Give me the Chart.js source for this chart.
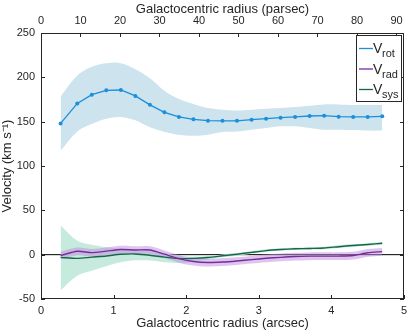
<!DOCTYPE html>
<html lang="en">
<head>
    <meta charset="UTF-8">
    <title>Galactocentric velocity profile</title>
    <script src="https://cdn.jsdelivr.net/npm/chart.js"></script>
    <style>
        body {
            margin: 0;
            background: #fff;
        }
        canvas {
            display: block;
        }
    </style>
</head>
<body>
    <canvas id="velChart" width="415" height="333"></canvas>

    <script>
        // radius in arcsec
        const radius = [0.27, 0.5, 0.7, 0.9, 1.1, 1.3, 1.5, 1.7, 1.9, 2.1, 2.3, 2.5, 2.7, 2.9, 3.1, 3.3, 3.5, 3.7, 3.9, 4.1, 4.3, 4.5, 4.7];

        const vrot   = [148, 170.6, 180.4, 185.3, 185.7, 179, 169, 160.5, 155.3, 152.6, 151.1, 151, 151, 152.3, 153.4, 154.5, 155.3, 156.4, 156.8, 155.6, 155.3, 155.3, 156];
        const vrotHi = [178.5, 202, 212, 216, 216, 209, 199, 185, 175.6, 170, 165.4, 163.5, 162.7, 163.5, 164.6, 165.4, 166.6, 168, 169.5, 169.5, 168.8, 168.8, 168.8];
        const vrotLo = [117.3, 139, 147.4, 153.4, 155.3, 151.5, 143.6, 138.4, 135.3, 134.2, 135.3, 138.4, 139, 141, 142.9, 144.7, 144.7, 142.9, 141, 141, 140.5, 139.9, 139.9];

        const vrad   = [-1, 3.8, 2.3, 4, 5.8, 5.3, 5.3, 0.6, -4.5, -7.7, -8.8, -8.3, -7.1, -5.6, -4.1, -3, -2.1, -1.7, -1.6, -1.6, -1, 2.2, 3.4];
        const vradHi = [3.2, 8, 6.5, 8.2, 10, 9.5, 9.5, 4.8, -0.3, -3.5, -4.6, -4.1, -2.9, -1.4, 0.1, 1.2, 2.1, 2.5, 2.6, 2.6, 3.2, 6.4, 7.6];
        const vradLo = [-5.5, -0.7, -2.2, -0.5, 1.3, 0.8, 0.8, -3.9, -9, -12.2, -13.3, -12.8, -11.6, -10.1, -8.6, -7.5, -6.6, -6.2, -6.1, -6.1, -5.5, -2.3, -1.1];

        const vsys   = [-3, -4.2, -2.8, -1.5, 0.4, 0.8, -0.6, -2.8, -4.4, -4.2, -3.2, -1.3, 0.5, 2.6, 4.6, 5.8, 6.6, 7, 7.5, 9, 10.4, 11.5, 12.8];
        const vsysHi = [33, 15.8, 11.3, 8.6, 6.8, 6.4, 4.5, 1.9, -1.5, -2.2, -1.5, 0.3, 2.1, 4.2, 6.2, 7.3, 8, 8.4, 9, 10.5, 11.9, 13, 14.3];
        const vsysLo = [-40, -23.7, -18, -13, -8.6, -6.4, -6.6, -8.5, -9.5, -8, -5.2, -3, -1.2, 1, 3, 4.3, 5.2, 5.6, 6, 7.5, 8.9, 10, 11.3];

        const xRange = [0, 5];         // arcsec
        const pcRange = [0, 91.9];     // same span in parsec
        const yRange = [-50, 250];
        const legendNames = [['V', 'rot'], ['V', 'rad'], ['V', 'sys']];

        const ink = '#262626';
        const colRot = '#1a8fdc';
        const colRad = '#7b2a9e';
        const colSys = '#17664a';

        function pts(ys) {
            return radius.map((r, i) => ({ x: r, y: ys[i] }));
        }

        function band(hi, lo, color, order) {
            return [{
                data: pts(hi),
                borderWidth: 0,
                pointRadius: 0,
                backgroundColor: color,
                fill: '+1',
                tension: 0.35,
                order: order
            }, {
                data: pts(lo),
                borderWidth: 0,
                pointRadius: 0,
                fill: false,
                tension: 0.35,
                order: order
            }];
        }

        // inward ticks, box frame and the sub-scripted legend
        const frame = {
            id: 'frame',
            afterDraw(chart) {
                const ctx = chart.ctx;
                const a = chart.chartArea;
                const s = chart.scales;
                const tl = 4;
                ctx.save();
                ctx.strokeStyle = ink;
                ctx.lineWidth = 1;
                ctx.beginPath();
                s.x.ticks.forEach(t => {
                    const px = Math.round(s.x.getPixelForValue(t.value)) + 0.5;
                    ctx.moveTo(px, a.bottom); ctx.lineTo(px, a.bottom - tl);
                });
                s.x2.ticks.forEach(t => {
                    const px = Math.round(s.x2.getPixelForValue(t.value)) + 0.5;
                    ctx.moveTo(px, a.top); ctx.lineTo(px, a.top + tl);
                });
                s.y.ticks.forEach(t => {
                    const py = Math.round(s.y.getPixelForValue(t.value)) + 0.5;
                    ctx.moveTo(a.left, py); ctx.lineTo(a.left + tl, py);
                    ctx.moveTo(a.right, py); ctx.lineTo(a.right - tl, py);
                });
                ctx.stroke();
                ctx.strokeRect(Math.round(a.left) + 0.5, Math.round(a.top) + 0.5,
                    Math.round(a.width) - 1, Math.round(a.height) - 1);

                // legend
                const lx = a.right - 48, ly = a.top + 2, lw = 45, lh = 66;
                ctx.fillStyle = '#fff';
                ctx.fillRect(lx, ly, lw, lh);
                ctx.strokeRect(lx + 0.5, ly + 0.5, lw, lh);
                const cols = [colRot, colRad, colSys];
                legendNames.forEach((n, i) => {
                    const cy = ly + 13 + i * 20.5;
                    ctx.strokeStyle = cols[i];
                    ctx.lineWidth = 1.3;
                    ctx.beginPath();
                    ctx.moveTo(lx + 3, cy + 0.5);
                    ctx.lineTo(lx + 17, cy + 0.5);
                    ctx.stroke();
                    ctx.fillStyle = ink;
                    ctx.textBaseline = 'alphabetic';
                    ctx.font = '14px "Liberation Sans", Arial, sans-serif';
                    ctx.fillText(n[0], lx + 17, cy + 5);
                    ctx.font = '11px "Liberation Sans", Arial, sans-serif';
                    ctx.fillText(n[1], lx + 26, cy + 9);
                });
                ctx.restore();
            }
        };

        const tickFont = { family: '"Liberation Sans", Arial, sans-serif', size: 11 };
        const titleFont = { family: '"Liberation Sans", Arial, sans-serif', size: 13 };

        new Chart(document.getElementById('velChart'), {
            type: 'line',
            data: {
                datasets: [
                    {
                        data: pts(vrot),
                        borderColor: colRot,
                        backgroundColor: colRot,
                        borderWidth: 1.3,
                        pointRadius: 2,
                        pointBorderWidth: 0,
                        fill: false,
                        order: 1
                    },
                    {
                        data: pts(vrad),
                        borderColor: colRad,
                        borderWidth: 1.4,
                        pointRadius: 0,
                        fill: false,
                        tension: 0.25,
                        order: 2
                    },
                    {
                        data: pts(vsys),
                        borderColor: colSys,
                        borderWidth: 1.4,
                        pointRadius: 0,
                        fill: false,
                        tension: 0.25,
                        order: 3
                    },
                    ...band(vradHi, vradLo, 'rgba(190, 140, 222, 0.5)', 5),
                    ...band(vsysHi, vsysLo, '#c6ebde', 6),
                    {
                        data: [{ x: xRange[0], y: 0 }, { x: xRange[1], y: 0 }],
                        borderColor: '#000',
                        borderWidth: 1,
                        pointRadius: 0,
                        fill: false,
                        order: 7
                    },
                    ...band(vrotHi, vrotLo, '#cde3ed', 8)
                ]
            },
            options: {
                responsive: false,
                animation: false,
                layout: { padding: { left: 0, right: 11, top: 0, bottom: 0 } },
                plugins: {
                    legend: { display: false },
                    tooltip: { enabled: false }
                },
                scales: {
                    x: {
                        type: 'linear',
                        position: 'bottom',
                        min: xRange[0],
                        max: xRange[1],
                        afterFit(scale) { scale.height = 34; },
                        grid: { display: false, drawTicks: false },
                        border: { display: false },
                        ticks: { stepSize: 1, font: tickFont, color: ink, padding: 5, maxRotation: 0 },
                        title: { display: true, text: 'Galactocentric radius (arcsec)', font: titleFont, color: ink, padding: { top: 0, bottom: 2 } }
                    },
                    x2: {
                        type: 'linear',
                        position: 'top',
                        min: pcRange[0],
                        max: pcRange[1],
                        afterFit(scale) { scale.height = 33; },
                        grid: { display: false, drawTicks: false },
                        border: { display: false },
                        ticks: { stepSize: 10, includeBounds: false, font: tickFont, color: ink, padding: 5, maxRotation: 0 },
                        title: { display: true, text: 'Galactocentric radius (parsec)', font: titleFont, color: ink, padding: { top: 2, bottom: 0 } }
                    },
                    y: {
                        type: 'linear',
                        min: yRange[0],
                        max: yRange[1],
                        afterFit(scale) { scale.width = 41; },
                        grid: { display: false, drawTicks: false },
                        border: { display: false },
                        ticks: { stepSize: 50, font: tickFont, color: ink, padding: 6 },
                        title: { display: true, text: 'Velocity (km s\u207B\u00B9)', font: titleFont, color: ink, padding: { top: 0, bottom: 0 } }
                    }
                }
            },
            plugins: [frame]
        });
    </script>
</body>
</html>
